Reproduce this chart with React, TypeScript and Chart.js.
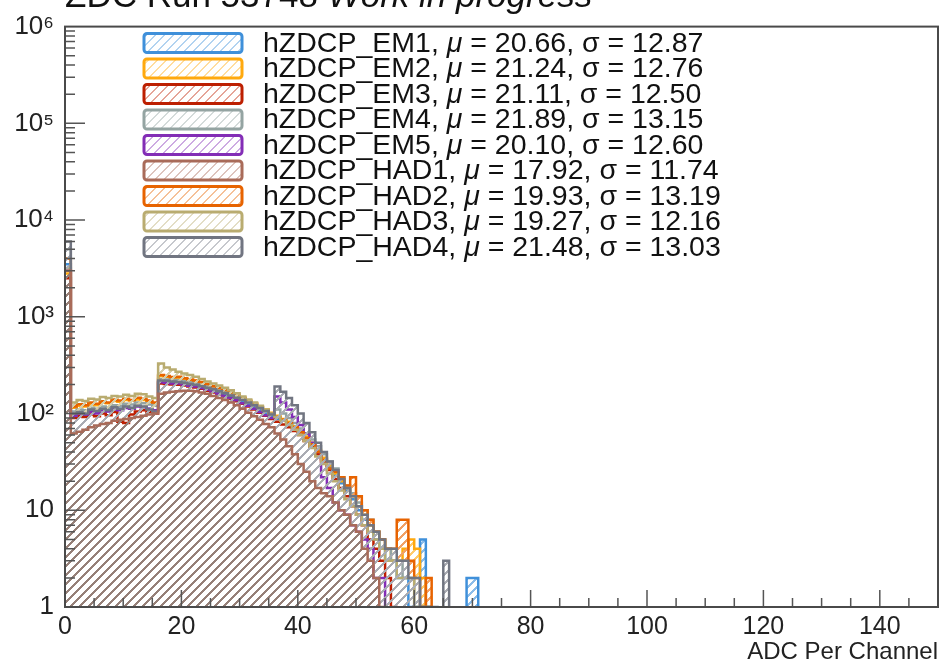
import React, { useEffect, useRef } from 'react';
import { Chart, registerables } from 'chart.js';

Chart.register(...registerables);

const NBINS = 150;
const FONT = '"Liberation Sans", Arial, Helvetica, sans-serif';

const SERIES_NAMES = [
  'hZDCP_EM1', 'hZDCP_EM2', 'hZDCP_EM3', 'hZDCP_EM4', 'hZDCP_EM5',
  'hZDCP_HAD1', 'hZDCP_HAD2', 'hZDCP_HAD3', 'hZDCP_HAD4',
];
const SERIES_COLORS = [
  '#3f90da', '#ffa90e', '#bd1f01', '#94a4a2', '#832db6',
  '#a96b59', '#e76300', '#b9ac70', '#717581',
];
const MEANS = ['20.66', '21.24', '21.11', '21.89', '20.10', '17.92', '19.93', '19.27', '21.48'];
const SIGMAS = ['12.87', '12.76', '12.50', '13.15', '12.60', '11.74', '13.19', '12.16', '13.03'];

// bin contents, bin i covers [i, i+1); bins not listed are empty
const EM1 = [3500,
  98, 102, 96, 108, 104, 110, 106, 115, 112, 118, 114, 120, 117, 112, 108,
  215, 212, 208, 210, 204, 198, 195, 188, 180, 172,
  165, 158, 150, 140, 132, 124, 116, 108, 100, 94,
  88, 84, 78, 72, 64, 56, 48, 40, 34, 28,
  23, 19, 16, 13, 10, 8, 7, 5, 4, 3,
  3, 2, 2, 1, 1, 5, 1, 0, 0, 0,
  0, 0, 0, 2, 2];
const EM2 = [2800,
  115, 120, 118, 125, 122, 130, 128, 135, 132, 138, 136, 140, 138, 132, 128,
  245, 240, 232, 235, 228, 222, 218, 210, 200, 192,
  184, 175, 166, 156, 146, 136, 128, 118, 110, 102,
  95, 88, 82, 74, 66, 58, 50, 42, 35, 29,
  24, 20, 17, 14, 11, 9, 7, 6, 5, 4,
  3, 3, 4, 5, 4, 2, 1];
const EM3 = [2500,
  90, 95, 92, 98, 94, 100, 96, 104, 82, 80, 98, 105, 108, 104, 100,
  205, 202, 200, 198, 195, 190, 186, 180, 172, 165,
  158, 150, 142, 134, 126, 118, 110, 102, 95, 88,
  82, 77, 72, 66, 60, 52, 45, 38, 32, 26,
  21, 17, 14, 11, 9, 7, 5, 4, 3, 2,
  1];
const EM4 = [5000,
  105, 110, 108, 115, 112, 118, 115, 122, 120, 126, 124, 130, 128, 124, 120,
  228, 225, 220, 222, 216, 210, 205, 198, 190, 182,
  175, 166, 158, 150, 140, 132, 124, 115, 108, 100,
  110, 100, 90, 80, 70, 62, 54, 46, 38, 32,
  27, 22, 18, 15, 12, 10, 8, 6, 5, 4,
  3, 3, 2, 2, 1, 1, 1];
const EM5 = [3000,
  95, 100, 98, 104, 100, 108, 105, 110, 108, 114, 112, 118, 116, 112, 108,
  210, 208, 204, 205, 200, 194, 190, 184, 176, 168,
  160, 152, 145, 137, 128, 120, 112, 104, 96, 90,
  150, 130, 110, 92, 76, 62, 50, 40, 22, 17,
  12, 10, 9, 7, 6, 5, 4, 2, 2];
const HAD1 = [3000,
  62, 65, 68, 72, 75, 78, 80, 84, 86, 88, 90, 92, 95, 98, 100,
  160, 165, 168, 170, 172, 172, 170, 165, 160, 152,
  145, 138, 130, 122, 112, 102, 94, 86, 78, 72,
  62, 54, 46, 38, 30, 25, 20, 17, 15, 14,
  12, 10, 9, 7, 6, 4, 3, 2, 1];
const HAD2 = [4000,
  118, 125, 122, 130, 126, 134, 130, 140, 136, 142, 138, 146, 142, 136, 130,
  250, 245, 238, 240, 232, 225, 220, 212, 202, 192,
  184, 175, 165, 155, 145, 135, 126, 116, 108, 100,
  92, 86, 80, 72, 64, 56, 48, 40, 33, 27,
  25, 22, 18, 22, 14, 10, 8, 6, 5, 4,
  4, 8, 8, 3, 2, 1, 2];
const HAD3 = [3200,
  130, 138, 135, 142, 140, 148, 145, 152, 150, 156, 152, 160, 158, 150, 145,
  330, 300, 285, 270, 260, 250, 240, 228, 215, 205,
  195, 185, 174, 162, 150, 140, 130, 120, 110, 100,
  92, 84, 76, 68, 60, 52, 44, 36, 30, 24,
  20, 16, 13, 11, 9, 7, 6, 5, 4, 3,
  3, 2, 2, 2, 1, 1];
const HAD4 = [6000,
  100, 104, 100, 110, 106, 112, 108, 116, 112, 118, 115, 120, 118, 110, 105,
  220, 218, 215, 212, 208, 202, 198, 192, 185, 178,
  170, 162, 154, 146, 138, 130, 122, 114, 106, 98,
  190, 168, 145, 122, 100, 80, 64, 50, 40, 32,
  26, 21, 17, 14, 11, 9, 7, 6, 5, 4,
  4, 3, 3, 2, 2, 1, 1, 1, 0, 3];

const SERIES_DATA = [EM1, EM2, EM3, EM4, EM5, HAD1, HAD2, HAD3, HAD4];
// draw weight: higher drawn first; HAD1 hatch on top
const SERIES_ORDER = [9, 8, 7, 6, 5, 0, 4, 3, 2];

const X_TICKS = [0, 20, 40, 60, 80, 100, 120, 140];
const Y_DECADES = [1, 10, 100, 1000, 10000, 100000, 1000000];
const Y_LABELS = ['1', '10', '10²', '10³', '10⁴', '10⁵', '10⁶'];
const X_TITLE = 'ADC Per Channel';
const TITLE_MAIN = 'ZDC Run 53748 ';
const TITLE_ITALIC = 'Work in progress';
const EMPTY_FLOOR = 0.1;

function hexRgb(hex: string) {
  const n = parseInt(hex.slice(1), 16);
  return [(n >> 16) & 255, (n >> 8) & 255, n & 255];
}
function mixWhite(hex: string, k: number) {
  return hexRgb(hex).map((c) => Math.round(c * k + 255 * (1 - k)));
}

// crisp pixel hatch "///"
function makeHatch(ctx: CanvasRenderingContext2D, rgb: number[], thick: number) {
  const p = 9;
  const c = document.createElement('canvas');
  c.width = p;
  c.height = p;
  const g = c.getContext('2d')!;
  const img = g.createImageData(p, p);
  for (let y = 0; y < p; y++) {
    for (let x = 0; x < p; x++) {
      const d = (x + y) % p;
      const o = (y * p + x) * 4;
      if (d < thick) {
        img.data[o] = rgb[0];
        img.data[o + 1] = rgb[1];
        img.data[o + 2] = rgb[2];
        img.data[o + 3] = 255;
      }
    }
  }
  g.putImageData(img, 0, 0);
  return ctx.createPattern(c, 'repeat')!;
}

function toPoints(arr: number[]) {
  const pts: { x: number; y: number }[] = [];
  for (let i = 0; i <= NBINS; i++) {
    const v = i < arr.length ? arr[i] : 0;
    pts.push({ x: i, y: v > 0 ? v : EMPTY_FLOOR });
  }
  return pts;
}

const decorPlugin = {
  id: 'decor',
  afterDraw(chart: any) {
    const { ctx, chartArea: a, scales } = chart;
    const xs = scales.x;
    const ys = scales.y;
    ctx.save();
    // inner ticks
    ctx.strokeStyle = '#555';
    ctx.lineWidth = 1.5;
    ctx.beginPath();
    for (let v = 0; v <= 150; v += 5) {
      const px = xs.getPixelForValue(v);
      const len = v % 20 === 0 ? 17 : 9;
      ctx.moveTo(px, a.bottom);
      ctx.lineTo(px, a.bottom - len);
    }
    for (let d = 1; d < 1e6; d *= 10) {
      for (let m = 1; m <= 9; m++) {
        const py = ys.getPixelForValue(d * m);
        const len = m === 1 ? 20 : 10;
        ctx.moveTo(a.left, py);
        ctx.lineTo(a.left + len, py);
      }
    }
    ctx.stroke();
    // frame
    ctx.strokeStyle = '#4a4a4a';
    ctx.lineWidth = 2;
    ctx.strokeRect(a.left, a.top, a.right - a.left, a.bottom - a.top);

    // title (cut at top)
    ctx.fillStyle = '#111';
    ctx.textBaseline = 'alphabetic';
    ctx.textAlign = 'left';
    ctx.font = `35px ${FONT}`;
    ctx.fillText(TITLE_MAIN, 65, 7);
    const w = ctx.measureText(TITLE_MAIN).width;
    ctx.font = `italic 35px ${FONT}`;
    ctx.fillText(TITLE_ITALIC, 65 + w, 7);

    // legend
    const fs = 28.5;
    for (let i = 0; i < SERIES_NAMES.length; i++) {
      const yc = 43 + i * 25.5;
      const bx = 144, bw = 98, bh = 19;
      ctx.fillStyle = '#fff';
      ctx.fillRect(bx, yc - bh / 2, bw, bh);
      ctx.fillStyle = makeHatch(ctx, mixWhite(SERIES_COLORS[i], 0.4), 2);
      ctx.fillRect(bx, yc - bh / 2, bw, bh);
      ctx.strokeStyle = SERIES_COLORS[i];
      ctx.lineWidth = 3;
      ctx.beginPath();
      (ctx as any).roundRect(bx, yc - bh / 2, bw, bh, 3);
      ctx.stroke();
      ctx.fillStyle = '#111';
      ctx.textBaseline = 'middle';
      let x = 263;
      const segs: [string, boolean][] = [
        [SERIES_NAMES[i] + ', ', false],
        ['μ', true],
        [' = ' + MEANS[i] + ', σ = ' + SIGMAS[i], false],
      ];
      for (const [t, it] of segs) {
        ctx.font = `${it ? 'italic ' : ''}${fs}px ${FONT}`;
        ctx.fillText(t, x, yc + 1);
        x += ctx.measureText(t).width;
      }
    }
    ctx.restore();
  },
};

export default function App() {
  const ref = useRef<HTMLCanvasElement>(null);
  useEffect(() => {
    const canvas = ref.current!;
    const ctx = canvas.getContext('2d')!;
    const datasets = SERIES_DATA.map((arr, i) => ({
      label: SERIES_NAMES[i],
      data: toPoints(arr),
      borderColor: SERIES_COLORS[i],
      borderWidth: 2.5,
      backgroundColor: makeHatch(ctx, i === 5 ? [150, 128, 120] : mixWhite(SERIES_COLORS[i], 0.6), 3),
      fill: 'start',
      stepped: 'before' as const,
      pointRadius: 0,
      order: SERIES_ORDER[i],
    }));
    const chart = new Chart(canvas, {
      type: 'line',
      data: { datasets },
      plugins: [decorPlugin],
      options: {
        animation: false,
        responsive: false,
        devicePixelRatio: 1,
        layout: { padding: { top: 17, right: 13, left: 0, bottom: 0 } },
        plugins: { legend: { display: false }, tooltip: { enabled: false } },
        scales: {
          x: {
            type: 'linear',
            min: 0,
            max: 150,
            afterBuildTicks: (s: any) => { s.ticks = X_TICKS.map((v) => ({ value: v })); },
            afterFit: (s: any) => { s.height = 56; },
            grid: { display: false, drawTicks: false },
            border: { display: false },
            ticks: { color: '#222', font: { size: 25, family: FONT }, padding: 5, maxRotation: 0, autoSkip: false },
            title: { display: true, text: X_TITLE, align: 'end', color: '#222', font: { size: 24, family: FONT }, padding: { top: 0, bottom: -4 } },
          },
          y: {
            type: 'logarithmic',
            min: 1,
            max: 1000000,
            afterBuildTicks: (s: any) => { s.ticks = Y_DECADES.map((v) => ({ value: v })); },
            afterFit: (s: any) => { s.width = 65; },
            grid: { display: false, drawTicks: false },
            border: { display: false },
            ticks: {
              color: '#222',
              font: { size: 26, family: FONT },
              padding: 11,
              autoSkip: false,
              callback: (v: any) => Y_LABELS[Y_DECADES.indexOf(Number(v))] ?? '',
            },
          },
        },
      } as any,
    });
    return () => chart.destroy();
  }, []);
  return (
    <div style={{ position: 'absolute', left: 0, top: 0, width: 951, height: 663, background: '#fff' }}>
      <canvas ref={ref} width={951} height={663} style={{ display: 'block', width: 951, height: 663 }} />
    </div>
  );
}
